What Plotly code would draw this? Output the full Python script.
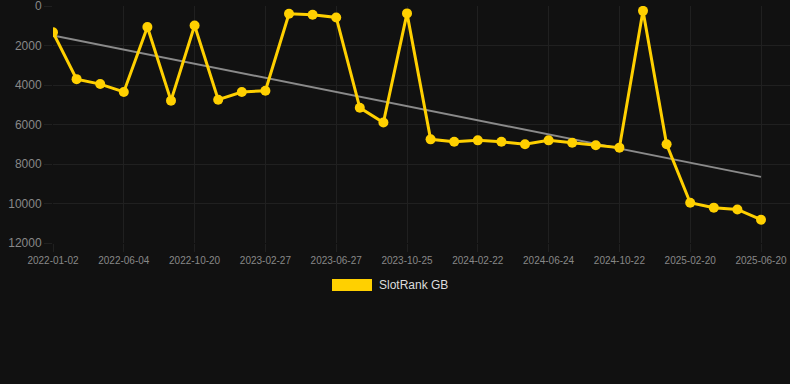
import numpy as np
import plotly.graph_objects as go

dates = ["2022-01-02", "2022-02-22", "2022-04-14", "2022-06-04", "2022-07-25", "2022-09-04",
         "2022-10-20", "2022-12-01", "2023-01-14", "2023-02-27", "2023-04-08", "2023-05-18",
         "2023-06-27", "2023-08-06", "2023-09-15", "2023-10-25", "2023-12-04", "2024-01-13",
         "2024-02-22", "2024-04-02", "2024-05-13", "2024-06-24", "2024-08-03", "2024-09-12",
         "2024-10-22", "2024-12-01", "2025-01-10", "2025-02-20", "2025-04-01", "2025-05-11",
         "2025-06-20"]
ranks = [1330, 3700, 3950, 4350, 1060, 4790, 980, 4740, 4350, 4290, 390, 440, 575, 5150, 5900,
         370, 6750, 6870, 6800, 6870, 7000, 6800, 6920, 7050, 7170, 240, 7000, 9960, 10210,
         10300, 10820]
tick_labels = dates[::3]
y_ticks = [0, 2000, 4000, 6000, 8000, 10000, 12000]
series_name = "SlotRank GB"

idx = np.arange(len(ranks))
slope, intercept = np.polyfit(idx, ranks, 1)
trend = [float(intercept), float(intercept + slope * idx[-1])]

W, H = 790, 384
L, R, T, B = 53, 0, 6, 141
pw, ph = W - L - R, H - T - B
def px(x):
    return (x - L) / pw
def py(y):
    return (H - B - y) / ph

gold = "#FFD000"
fig = go.Figure()
fig.add_trace(go.Scatter(x=[dates[0], dates[-1]], y=trend, mode="lines",
                         line=dict(color="#8a8a8a", width=2), showlegend=False, hoverinfo="skip"))
fig.add_trace(go.Scatter(x=dates, y=ranks, mode="lines+markers", name=series_name,
                         line=dict(color=gold, width=3),
                         marker=dict(color=gold, size=10), showlegend=False))

fig.add_shape(type="rect", xref="paper", yref="paper",
              x0=px(332), x1=px(372), y0=py(291), y1=py(279),
              fillcolor=gold, line=dict(width=0))
fig.add_annotation(xref="paper", yref="paper", x=px(377), y=py(285), text=series_name,
                   showarrow=False, xanchor="left", yanchor="middle",
                   font=dict(size=12, color="#dddddd", family="Liberation Sans, Arial"))

grid = "#202020"
fig.update_layout(
    width=W, height=H, margin=dict(l=L, r=R, t=T, b=B),
    paper_bgcolor="#111111", plot_bgcolor="#111111",
    font=dict(family="Liberation Sans, Arial", color="#888888"),
    xaxis=dict(type="category", categoryorder="array", categoryarray=dates,
               range=[0, (W - L) / ((761 - 53) / 30)],
               tickmode="array", tickvals=tick_labels, ticktext=tick_labels,
               showgrid=True, gridcolor=grid, gridwidth=1, zeroline=False,
               ticks="outside", ticklen=8, tickcolor=grid,
               tickfont=dict(size=10, color="#888888"), showline=False),
    yaxis=dict(range=[12000, -5], tickmode="array", tickvals=y_ticks,
               ticktext=[str(v) for v in y_ticks], ticklabeloverflow="allow",
               showgrid=True, gridcolor=grid, gridwidth=1, zeroline=False,
               ticks="outside", ticklen=8, tickcolor=grid,
               tickfont=dict(size=12, color="#888888"), showline=False),
    showlegend=False,
)
fig.write_html("out.html", config={"displayModeBar": False},
               post_script="document.body.style.margin='0';document.body.style.background='#111111';")
